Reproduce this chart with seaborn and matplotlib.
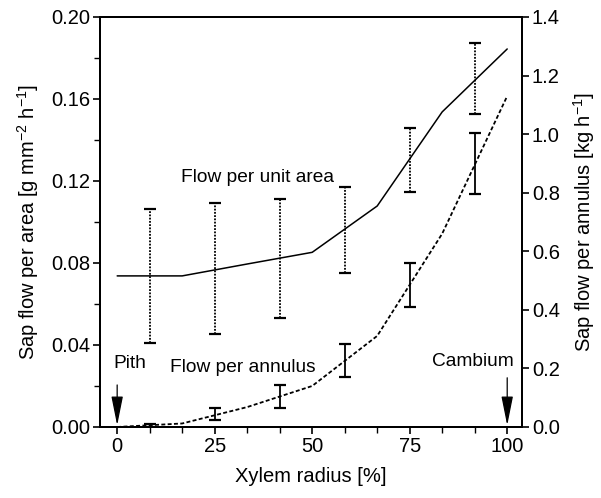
import numpy as np
import pandas as pd
import matplotlib
matplotlib.use("Agg")
import matplotlib.pyplot as plt
import seaborn as sns
from matplotlib.ticker import MultipleLocator, FixedLocator

# ---- data ----
x_line = [0, 16.67, 33.33, 50, 66.67, 83.33, 100]
area_line = [0.0737, 0.0737, 0.0795, 0.0852, 0.1078, 0.1537, 0.1844]
annulus_line = [0.0, 0.012, 0.068, 0.140, 0.311, 0.660, 1.130]

x_bars = [8.33, 25, 41.67, 58.33, 75, 91.67]
area_upper = [0.1065, 0.1093, 0.1112, 0.1170, 0.1459, 0.1873]
area_lower = [0.0410, 0.0454, 0.0532, 0.0751, 0.1146, 0.1527]
annulus_upper = [0.010, 0.065, 0.143, 0.283, 0.560, 1.004]
annulus_lower = [0.000, 0.024, 0.065, 0.171, 0.410, 0.795]

x_ticks = [0, 25, 50, 75, 100]
left_ticks = [0.00, 0.04, 0.08, 0.12, 0.16, 0.20]
right_ticks = [0.0, 0.2, 0.4, 0.6, 0.8, 1.0, 1.2, 1.4]

sns.set_theme(style="ticks")
plt.rcParams["font.family"] = ["Liberation Sans", "DejaVu Sans"]
plt.rcParams["mathtext.fontset"] = "custom"
plt.rcParams["mathtext.rm"] = "Liberation Sans"
plt.rcParams["mathtext.it"] = "Liberation Sans"
plt.rcParams["text.color"] = "black"
plt.rcParams["axes.labelcolor"] = "black"
plt.rcParams["xtick.color"] = "black"
plt.rcParams["ytick.color"] = "black"

fig = plt.figure(figsize=(6.01, 4.98), dpi=100)
ax = fig.add_axes([0.1664, 0.1426, 0.7022, 0.8233])
ax2 = ax.twinx()

df = pd.DataFrame({"x": x_line, "area": area_line, "annulus": annulus_line})

sns.lineplot(data=df, x="x", y="area", ax=ax, color="black", lw=1.1)
sns.lineplot(data=df, x="x", y="annulus", ax=ax2, color="black", lw=1.3,
             linestyle=(0, (2.2, 1.3)))

# error bars: area (dotted)
au = np.array(area_upper); al = np.array(area_lower)
eb = ax.errorbar(x_bars, (au + al) / 2, yerr=(au - al) / 2, fmt="none",
                 ecolor="black", elinewidth=1.3, capsize=4, capthick=1.6)
eb[2][0].set_linestyle((0, (1, 0.8)))

nu = np.array(annulus_upper); nl = np.array(annulus_lower)
ax2.errorbar(x_bars, (nu + nl) / 2, yerr=(nu - nl) / 2, fmt="none",
             ecolor="black", elinewidth=1.3, capsize=4, capthick=1.6)

ax.set_xlim(-4.4, 103.8)
ax.set_ylim(0, 0.20)
ax2.set_ylim(0, 1.4)

ax.xaxis.set_major_locator(FixedLocator(x_ticks))
ax.xaxis.set_minor_locator(MultipleLocator(25 / 3))
ax.yaxis.set_major_locator(FixedLocator(left_ticks))
ax.yaxis.set_minor_locator(MultipleLocator(0.02))
ax2.yaxis.set_major_locator(FixedLocator(right_ticks))
ax.set_yticklabels([f"{v:.2f}" for v in left_ticks])
ax2.set_yticklabels([f"{v:.1f}" for v in right_ticks])

for a in (ax, ax2):
    for s in a.spines.values():
        s.set_visible(True)
        s.set_linewidth(1.4)
        s.set_color("black")
ax.tick_params(axis="both", which="major", direction="out", length=5, width=1.2,
               labelsize=14.5, colors="black", pad=2)
ax.tick_params(axis="both", which="minor", direction="out", length=4, width=1.0)
ax2.tick_params(axis="y", which="major", direction="out", length=5, width=1.2,
                labelsize=14.5, colors="black", pad=2)

ax.set_xlabel("Xylem radius [%]", fontsize=14.5, labelpad=8)
ax.set_ylabel("Sap flow per area [g mm$^{-2}$ h$^{-1}$]", fontsize=14.5, labelpad=7)
ax2.set_ylabel("Sap flow per annulus [kg h$^{-1}$]", fontsize=14.5, labelpad=8)

ax.text(35.9, 0.1215, "Flow per unit area", fontsize=13.8, ha="center", va="center")
ax.text(32.3, 0.0288, "Flow per annulus", fontsize=13.8, ha="center", va="center")
ax.text(-1.0, 0.031, "Pith", fontsize=13.8, ha="left", va="center")
ax.text(101.8, 0.0317, "Cambium", fontsize=13.8, ha="right", va="center")

for xa, y0 in ((0, 0.0205), (100, 0.0240)):
    ax.annotate("", xy=(xa, 0.0008), xytext=(xa, y0),
                arrowprops=dict(arrowstyle="-|>,head_length=1.5,head_width=0.3",
                                color="black", lw=0.9, shrinkA=0, shrinkB=0))

ax.set_zorder(ax2.get_zorder() + 1)
ax.patch.set_visible(False)

fig.savefig("out.png", dpi=100)
